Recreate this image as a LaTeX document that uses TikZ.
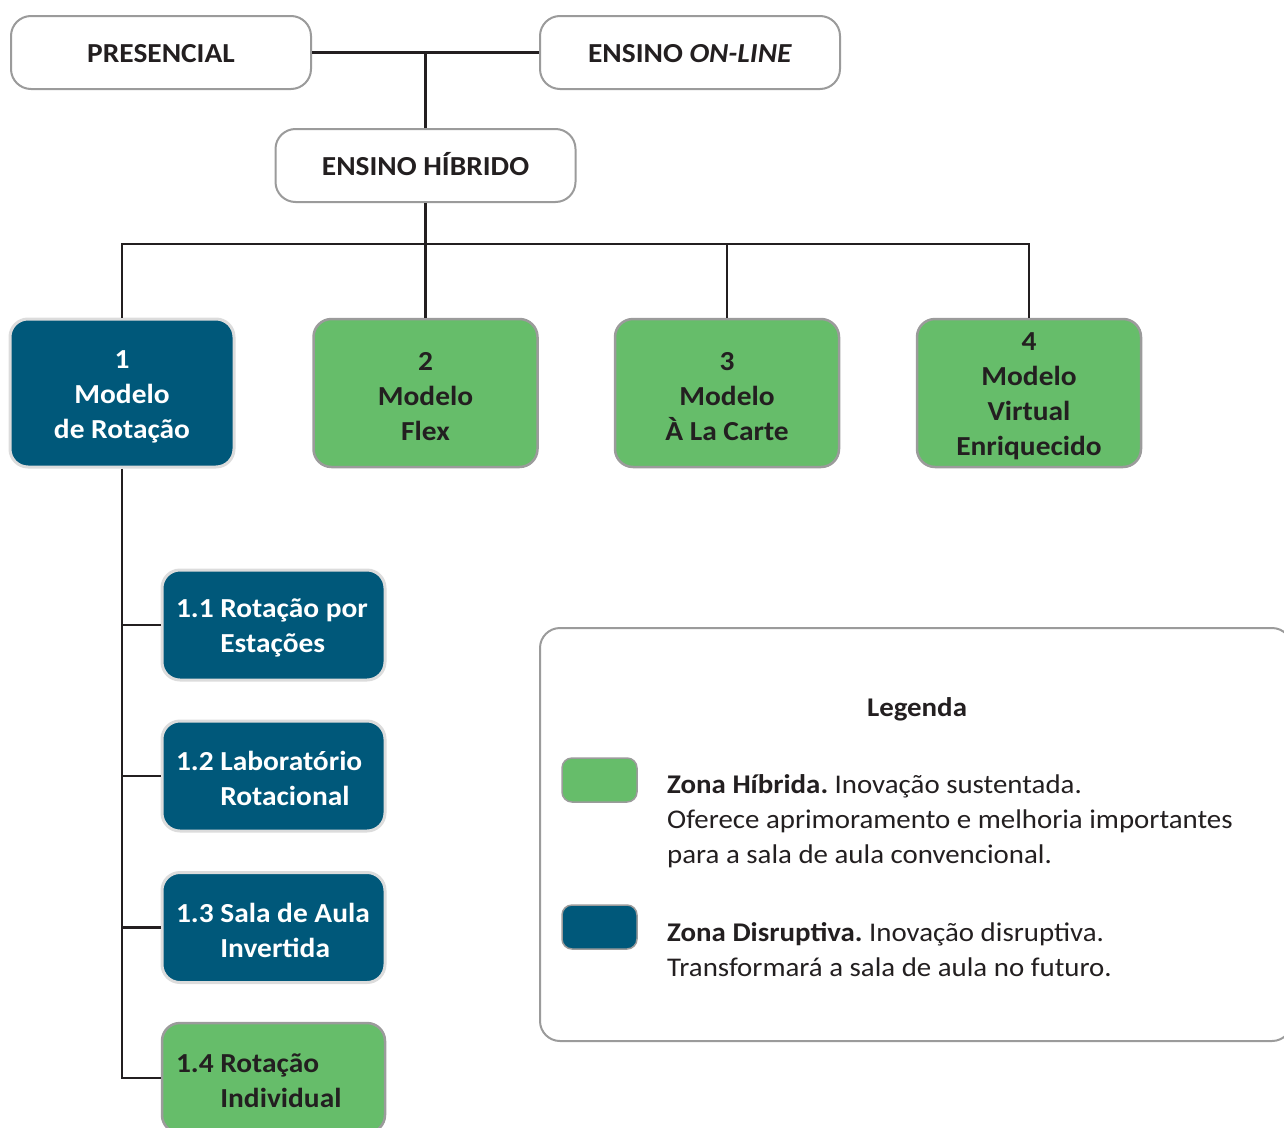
\documentclass[tikz,border=0pt]{standalone}
\usepackage{fontspec}
\setmainfont{Carlito}[FakeStretch=1.07]
\usetikzlibrary{positioning}
\definecolor{zoneBlue}{HTML}{00587A}
\definecolor{zoneGreen}{HTML}{66BD6A}
\definecolor{inkDark}{HTML}{231F20}
\definecolor{rimGray}{HTML}{9B9B9B}
\definecolor{rimLight}{HTML}{DCDCDC}
\frenchspacing
%% Strut that lowers a multi-line label a little in its box.
\newcommand{\topStrut}{\rule{0pt}{25pt}}
\begin{document}
\begin{tikzpicture}[x=1pt,y=-1pt,%%
  lineStyle/.style={-,line width=2.5pt,inkDark},%%
  topBoxStyle/.style={draw=rimGray,line width=2pt,fill=white,rounded corners=20pt,
    minimum width=300pt,minimum height=73pt,text=inkDark,text height=20pt,text depth=0pt,
    font=\fontsize{27.5}{33}\selectfont\bfseries},%%
  modelStyle/.style={rounded corners=18pt,minimum width=224pt,minimum height=148pt,
    align=center,inner sep=0pt,font=\fontsize{27.5}{35}\selectfont\bfseries},%%
  subStyle/.style={rounded corners=18pt,minimum width=223pt,minimum height=110pt,
    align=flush left,text width=195pt,inner xsep=14pt,inner ysep=0pt,
    font=\fontsize{27.5}{35}\selectfont\bfseries},%%
  hybridStyle/.style={draw=rimGray,line width=2.5pt,fill=zoneGreen,text=inkDark},%%
  disruptStyle/.style={draw=rimLight,line width=3pt,fill=zoneBlue,text=white},%%
  swatchStyle/.style={rounded corners=10pt,minimum width=75pt,minimum height=44pt,inner sep=0pt},%%
  legendTextStyle/.style={anchor=west,align=flush left,inner sep=0pt,text=inkDark,
    font=\fontsize{27}{35}\selectfont}
]
\useasboundingbox (0,0) rectangle (1284,1127);
%%
%% The two sources and the hybrid box.
\node[topBoxStyle] (pres) at (161,52.5) {PRESENCIAL};
\node[topBoxStyle] (online) at (690,52.5) {ENSINO \textit{ON-LINE}};
\node[topBoxStyle] (hibrido) at (425.5,165.5) {ENSINO HÍBRIDO};
%%
%% The four models.
\coordinate (bus) at (425.5,244);
\node[modelStyle,disruptStyle] (m1) at (122,393) {\topStrut1\\Modelo\\de Rotação};
\node[modelStyle,hybridStyle] (m2) at (425.5,393) {\topStrut2\\Modelo\\Flex};
\node[modelStyle,hybridStyle] (m3) at (727,393) {\topStrut3\\Modelo\\À La Carte};
\node[modelStyle,hybridStyle] (m4) at (1029,393) {\topStrut4\\Modelo\\Virtual\\Enriquecido};
%%
%% The rotation sub-models.
\node[subStyle,disruptStyle] (s1) at (273.5,625)
  {\topStrut1.1 Rotação por\\\hphantom{1.1 }Estações};
\node[subStyle,disruptStyle] (s2) at (273.5,776)
  {\topStrut1.2 Laboratório\\\hphantom{1.2 }Rotacional};
\node[subStyle,disruptStyle] (s3) at (273.5,927.5)
  {\topStrut1.3 Sala de Aula\\\hphantom{1.3 }Invertida};
\node[subStyle,hybridStyle] (s4) at (273.5,1078)
  {\topStrut1.4 Rotação\\\hphantom{1.4 }Individual};
%%
%% Connectors.
\draw[lineStyle] (pres.east) -- (online.west);
\draw[lineStyle] (hibrido.north) -- (hibrido.north |- pres.east);
\draw[lineStyle] (hibrido.south) -- (m2.north);
\draw[lineStyle] (m1.north) |- (m4.north |- bus) -- (m4.north);
\draw[lineStyle] (m3.north) -- (m3.north |- bus);
\draw[lineStyle] (m1.south) |- (s4.west);
\foreach \sub in {s1,s2,s3}
  \draw[lineStyle] (\sub.west) -- (\sub.west -| m1.south);
%%
%% The legend.
\node[draw=rimGray,line width=2pt,rounded corners=20pt,minimum width=752pt,
  minimum height=413pt] (legend) at (916,834.5) {};
\node[text=inkDark,font=\fontsize{27}{32}\selectfont\bfseries] (legTitle) at (917,709) {Legenda};
\node[swatchStyle,hybridStyle,line width=1.5pt] (swGreen) at (599.5,780) {};
\node[swatchStyle,disruptStyle,draw=rimGray,line width=1.5pt] (swBlue) at (599.5,927) {};
\node[legendTextStyle] (legGreen) at (667,821)
  {\textbf{Zona Híbrida.} Inovação sustentada.\\
   Oferece aprimoramento e melhoria importantes\\
   para a sala de aula convencional.};
\node[legendTextStyle] (legBlue) at (667,949.5)
  {\textbf{Zona Disruptiva.} Inovação disruptiva.\\
   Transformará a sala de aula no futuro.};
\end{tikzpicture}
\end{document}
